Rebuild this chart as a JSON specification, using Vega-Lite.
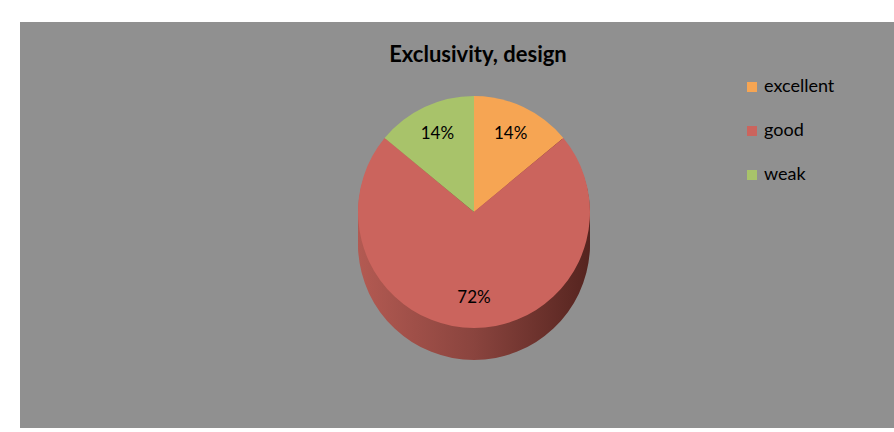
{
  "$schema": "https://vega.github.io/schema/vega-lite/v6.json",
  "autosize": "none",
  "width": 874,
  "height": 406,
  "padding": {"left": 20, "top": 22, "right": 0, "bottom": 4},
  "background": "white",
  "view": {"fill": "#909090", "stroke": null},
  "config": {
    "view": {"fill": "#909090", "stroke": null},
    "font": "Lato"
  },
  "title": {
    "text": "Exclusivity, design",
    "anchor": "middle",
    "font": "Lato",
    "fontSize": 22,
    "fontWeight": "bold",
    "color": "#000000",
    "baseline": "middle",
    "offset": -55,
    "dx": 21
  },
  "data": {
    "values": [
      {"category": "excellent", "share": 14, "label": "14%"},
      {"category": "good", "share": 72, "label": "72%"},
      {"category": "weak", "share": 14, "label": "14%"}
    ]
  },
  "encoding": {
    "theta": {"field": "share", "type": "quantitative", "stack": true},
    "order": {"field": "category", "type": "nominal", "sort": "ascending"}
  },
  "layer": [
    {"mark": {"type": "arc", "radius": 116, "xOffset": 17, "yOffset": 19, "stroke": null, "fill": {"gradient": "linear", "x1": 0, "y1": 0, "x2": 1, "y2": 0, "stops": [{"offset": 0, "color": "#b35a52"}, {"offset": 0.5, "color": "#8a443e"}, {"offset": 1, "color": "#55241f"}]}}},
    {"mark": {"type": "arc", "radius": 116, "xOffset": 17, "yOffset": 14, "stroke": null, "fill": {"gradient": "linear", "x1": 0, "y1": 0, "x2": 1, "y2": 0, "stops": [{"offset": 0, "color": "#b35a52"}, {"offset": 0.5, "color": "#8a443e"}, {"offset": 1, "color": "#55241f"}]}}},
    {"mark": {"type": "arc", "radius": 116, "xOffset": 17, "yOffset": 9, "stroke": null, "fill": {"gradient": "linear", "x1": 0, "y1": 0, "x2": 1, "y2": 0, "stops": [{"offset": 0, "color": "#b35a52"}, {"offset": 0.5, "color": "#8a443e"}, {"offset": 1, "color": "#55241f"}]}}},
    {"mark": {"type": "arc", "radius": 116, "xOffset": 17, "yOffset": 4, "stroke": null, "fill": {"gradient": "linear", "x1": 0, "y1": 0, "x2": 1, "y2": 0, "stops": [{"offset": 0, "color": "#b35a52"}, {"offset": 0.5, "color": "#8a443e"}, {"offset": 1, "color": "#55241f"}]}}},
    {"mark": {"type": "arc", "radius": 116, "xOffset": 17, "yOffset": -1, "stroke": null, "fill": {"gradient": "linear", "x1": 0, "y1": 0, "x2": 1, "y2": 0, "stops": [{"offset": 0, "color": "#b35a52"}, {"offset": 0.5, "color": "#8a443e"}, {"offset": 1, "color": "#55241f"}]}}},
    {"mark": {"type": "arc", "radius": 116, "xOffset": 17, "yOffset": -6, "stroke": null, "fill": {"gradient": "linear", "x1": 0, "y1": 0, "x2": 1, "y2": 0, "stops": [{"offset": 0, "color": "#b35a52"}, {"offset": 0.5, "color": "#8a443e"}, {"offset": 1, "color": "#55241f"}]}}},
    {"mark": {"type": "arc", "radius": 116, "xOffset": 17, "yOffset": -11, "stroke": null, "fill": {"gradient": "linear", "x1": 0, "y1": 0, "x2": 1, "y2": 0, "stops": [{"offset": 0, "color": "#b35a52"}, {"offset": 0.5, "color": "#8a443e"}, {"offset": 1, "color": "#55241f"}]}}},
    {
      "mark": {"type": "arc", "radius": 116, "xOffset": 17, "yOffset": -13, "stroke": null},
      "encoding": {
        "color": {
          "field": "category",
          "type": "nominal",
          "scale": {"domain": ["excellent", "good", "weak"], "range": ["#f6a553", "#cb645d", "#a8c36a"]},
          "legend": {
            "title": null,
            "orient": "none",
            "legendX": 723,
            "legendY": 56,
            "symbolType": "square",
            "symbolSize": 100,
            "symbolStrokeWidth": 0,
            "labelFontSize": 18,
            "labelFont": "Lato",
            "labelColor": "#000000",
            "labelOffset": 3,
            "rowPadding": 26
          }
        }
      }
    },
    {
      "mark": {"type": "text", "radius": 86, "xOffset": 17, "yOffset": -13, "fontSize": 17, "font": "Lato", "color": "#000000"},
      "encoding": {"text": {"field": "label", "type": "nominal"}}
    }
  ]
}
